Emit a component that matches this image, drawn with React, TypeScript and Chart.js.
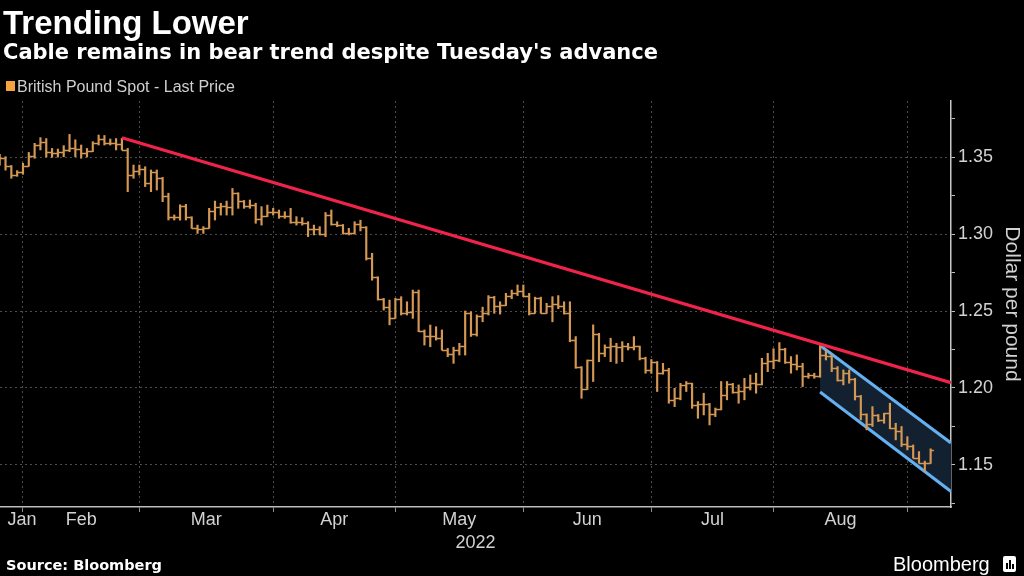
import React, { useEffect, useRef } from "react";
import { Chart, registerables } from "chart.js";

Chart.register(...registerables);

// ---------- data (GBP/USD daily bars, one per weekday) ----------
const opens = [
  1.3470, 1.3495, 1.3440, 1.3385, 1.3405, 1.3445, 1.3510, 1.3580, 1.3598, 1.3530,
  1.3528, 1.3532, 1.3548, 1.3560, 1.3555, 1.3528, 1.3540, 1.3590, 1.3615, 1.3592,
  1.3590, 1.3585, 1.3548, 1.3385, 1.3410, 1.3420, 1.3330, 1.3400, 1.3365, 1.3245,
  1.3110, 1.3112, 1.3180, 1.3110, 1.3040, 1.3035, 1.3040, 1.3150, 1.3175, 1.3185,
  1.3175, 1.3265, 1.3215, 1.3185, 1.3190, 1.3095, 1.3115, 1.3145, 1.3142, 1.3115,
  1.3118, 1.3075, 1.3078, 1.3070, 1.3035, 1.3035, 1.3002, 1.3125, 1.3065, 1.3060,
  1.3005, 1.3005, 1.3065, 1.3045, 1.2845, 1.2720, 1.2580, 1.2525, 1.2455, 1.2575,
  1.2485, 1.2495, 1.2625, 1.2370, 1.2335, 1.2335, 1.2325, 1.2248, 1.2220, 1.2245,
  1.2275, 1.2490, 1.2350, 1.2465, 1.2485, 1.2590, 1.2530, 1.2540, 1.2600, 1.2620,
  1.2630, 1.2600, 1.2490, 1.2585, 1.2490, 1.2530, 1.2545, 1.2535, 1.2490, 1.2310,
  1.2135, 1.1995, 1.2180, 1.2350, 1.2225, 1.2265, 1.2275, 1.2265, 1.2270, 1.2265,
  1.2270, 1.2195, 1.2120, 1.2170, 1.2095, 1.2115, 1.1925, 1.1935, 1.2020, 1.2030,
  1.1890, 1.1895, 1.1895, 1.1830, 1.1865, 1.1955, 1.2025, 1.1975, 1.1980, 1.2005,
  1.2035, 1.2025, 1.2165, 1.2175, 1.2180, 1.2250, 1.2170, 1.2155, 1.2145, 1.2075,
  1.2085, 1.2075, 1.2215, 1.2210, 1.2130, 1.2055, 1.2100, 1.2060, 1.1950, 1.1830,
  1.1765, 1.1825, 1.1795, 1.1835, 1.1740, 1.1720, 1.1635, 1.1620, 1.1545, 1.1515,
  1.1515,
];
const highs = [
  1.3518, 1.3502, 1.3445, 1.3412, 1.3460, 1.3530, 1.3589, 1.3626, 1.3620, 1.3556,
  1.3552, 1.3574, 1.3647, 1.3612, 1.3578, 1.3556, 1.3600, 1.3643, 1.3640, 1.3617,
  1.3620, 1.3622, 1.3556, 1.3448, 1.3448, 1.3437, 1.3416, 1.3416, 1.3368, 1.3265,
  1.3124, 1.3190, 1.3193, 1.3112, 1.3058, 1.3048, 1.3167, 1.3214, 1.3200, 1.3214,
  1.3296, 1.3268, 1.3218, 1.3221, 1.3200, 1.3178, 1.3188, 1.3167, 1.3156, 1.3145,
  1.3167, 1.3113, 1.3106, 1.3080, 1.3058, 1.3048, 1.3140, 1.3156, 1.3080, 1.3062,
  1.3037, 1.3080, 1.3090, 1.3048, 1.2875, 1.2722, 1.2582, 1.2571, 1.2582, 1.2593,
  1.2560, 1.2636, 1.2636, 1.2377, 1.2409, 1.2398, 1.2377, 1.2257, 1.2265, 1.2290,
  1.2500, 1.2495, 1.2475, 1.2525, 1.2600, 1.2595, 1.2560, 1.2615, 1.2636, 1.2669,
  1.2669, 1.2615, 1.2590, 1.2590, 1.2550, 1.2593, 1.2600, 1.2560, 1.2560, 1.2334,
  1.2139, 1.2182, 1.2410, 1.2355, 1.2280, 1.2323, 1.2290, 1.2301, 1.2290, 1.2334,
  1.2272, 1.2200, 1.2185, 1.2172, 1.2160, 1.2128, 1.1998, 1.2030, 1.2042, 1.2031,
  1.1912, 1.1966, 1.1900, 1.1870, 1.2042, 1.2042, 1.2030, 1.2020, 1.2063, 1.2085,
  1.2096, 1.2193, 1.2225, 1.2255, 1.2295, 1.2258, 1.2204, 1.2215, 1.2160, 1.2096,
  1.2096, 1.2276, 1.2247, 1.2215, 1.2139, 1.2117, 1.2117, 1.2063, 1.1952, 1.1832,
  1.1879, 1.1828, 1.1836, 1.1901, 1.1771, 1.1750, 1.1684, 1.1630, 1.1587, 1.1525,
  1.1605,
];
const lows = [
  1.3448, 1.3415, 1.3362, 1.3375, 1.3388, 1.3440, 1.3492, 1.3546, 1.3500, 1.3498,
  1.3500, 1.3502, 1.3535, 1.3502, 1.3492, 1.3500, 1.3535, 1.3578, 1.3578, 1.3578,
  1.3546, 1.3546, 1.3275, 1.3362, 1.3383, 1.3308, 1.3275, 1.3286, 1.3210, 1.3091,
  1.3091, 1.3090, 1.3091, 1.3037, 1.3004, 1.3004, 1.3037, 1.3091, 1.3123, 1.3123,
  1.3123, 1.3167, 1.3167, 1.3167, 1.3070, 1.3058, 1.3113, 1.3123, 1.3102, 1.3102,
  1.3070, 1.3058, 1.3058, 1.2983, 1.2994, 1.2994, 1.2983, 1.3058, 1.3048, 1.3000,
  1.2994, 1.3000, 1.3020, 1.2831, 1.2700, 1.2571, 1.2506, 1.2410, 1.2452, 1.2474,
  1.2474, 1.2452, 1.2366, 1.2279, 1.2268, 1.2311, 1.2246, 1.2203, 1.2160, 1.2214,
  1.2214, 1.2335, 1.2337, 1.2430, 1.2474, 1.2485, 1.2480, 1.2535, 1.2580, 1.2600,
  1.2593, 1.2474, 1.2485, 1.2485, 1.2485, 1.2430, 1.2515, 1.2480, 1.2300, 1.2128,
  1.1933, 1.1990, 1.2042, 1.2171, 1.2204, 1.2171, 1.2160, 1.2171, 1.2247, 1.2247,
  1.2182, 1.2096, 1.2095, 1.1977, 1.2090, 1.1901, 1.1879, 1.1923, 1.1977, 1.1868,
  1.1803, 1.1825, 1.1760, 1.1814, 1.1858, 1.1923, 1.1966, 1.1901, 1.1923, 1.1987,
  1.1966, 1.2020, 1.2106, 1.2125, 1.2170, 1.2160, 1.2096, 1.2117, 1.2009, 1.2063,
  1.2063, 1.2070, 1.2182, 1.2106, 1.2045, 1.2020, 1.2031, 1.1922, 1.1793, 1.1728,
  1.1750, 1.1782, 1.1771, 1.1735, 1.1663, 1.1620, 1.1598, 1.1544, 1.1511, 1.1455,
  1.1510,
];
const closes = [
  1.3495, 1.3440, 1.3385, 1.3405, 1.3445, 1.3510, 1.3580, 1.3598, 1.3530, 1.3528,
  1.3532, 1.3548, 1.3560, 1.3555, 1.3528, 1.3540, 1.3590, 1.3615, 1.3592, 1.3590,
  1.3585, 1.3548, 1.3385, 1.3410, 1.3420, 1.3330, 1.3400, 1.3365, 1.3245, 1.3110,
  1.3112, 1.3180, 1.3110, 1.3040, 1.3035, 1.3040, 1.3150, 1.3175, 1.3185, 1.3175,
  1.3265, 1.3215, 1.3185, 1.3190, 1.3095, 1.3115, 1.3145, 1.3142, 1.3115, 1.3118,
  1.3075, 1.3078, 1.3070, 1.3035, 1.3035, 1.3002, 1.3125, 1.3065, 1.3060, 1.3005,
  1.3005, 1.3065, 1.3045, 1.2845, 1.2720, 1.2580, 1.2525, 1.2455, 1.2575, 1.2485,
  1.2495, 1.2625, 1.2370, 1.2335, 1.2335, 1.2325, 1.2248, 1.2220, 1.2245, 1.2275,
  1.2490, 1.2350, 1.2465, 1.2485, 1.2590, 1.2530, 1.2540, 1.2600, 1.2620, 1.2630,
  1.2600, 1.2490, 1.2585, 1.2490, 1.2530, 1.2545, 1.2535, 1.2490, 1.2310, 1.2135,
  1.1995, 1.2180, 1.2350, 1.2225, 1.2265, 1.2275, 1.2265, 1.2270, 1.2265, 1.2270,
  1.2195, 1.2120, 1.2170, 1.2095, 1.2115, 1.1925, 1.1935, 1.2020, 1.2030, 1.1890,
  1.1895, 1.1895, 1.1830, 1.1865, 1.1955, 1.2025, 1.1975, 1.1980, 1.2005, 1.2035,
  1.2025, 1.2165, 1.2175, 1.2180, 1.2250, 1.2170, 1.2155, 1.2145, 1.2075, 1.2085,
  1.2075, 1.2215, 1.2210, 1.2130, 1.2055, 1.2100, 1.2060, 1.1950, 1.1830, 1.1765,
  1.1825, 1.1795, 1.1835, 1.1740, 1.1720, 1.1635, 1.1620, 1.1545, 1.1515, 1.1515,
  1.1600,
];

// month boundaries (weekday index of first bar of each month) and labels
const monthStarts = [4, 24, 47, 68, 90, 112, 133, 156];
const monthLabels = ["Jan", "Feb", "Mar", "Apr", "May", "Jun", "Jul", "Aug"];
const yearLabel = "2022";

const yMajorTicks = [1.15, 1.2, 1.25, 1.3, 1.35];
const yMinorTicks = [1.125, 1.175, 1.225, 1.275, 1.325, 1.375];

// drawn trend line (red) and falling channel (blue)
const trendX = [21, 163.5];
const trendY = [1.3625, 1.2035];
const channelX = [141, 163.5];
const channelUpper = [1.2276, 1.1643];
const channelLower = [1.1974, 1.1328];

// ---------- layout / style ----------
const X_MIN = 0.05;
const X_MAX = 163.5;
const Y_MIN = 1.1227;
const Y_MAX = 1.3864;
const FIRST_LABEL_MIN = 3.8;

const AXIS_FONT = "'Liberation Sans', Arial, sans-serif";
const BAR_COLOR = "#d49754";
const GRID_COLOR = "#4d4d4d";
const LABEL_COLOR = "#d2d2d2";

const labelPositions = monthLabels.map((_, i) => {
  const start = i === 0 ? X_MIN : monthStarts[i - 1];
  const end = monthStarts[i];
  return Math.max((start + end) / 2, X_MIN + FIRST_LABEL_MIN);
});

const ohlcTicks = {
  id: "ohlcTicks",
  afterDatasetDraw(chart: any, args: any) {
    if (args.index !== 0) return;
    const { ctx, chartArea, scales } = chart;
    const y = scales.y;
    ctx.save();
    ctx.beginPath();
    ctx.rect(chartArea.left, chartArea.top, chartArea.right - chartArea.left, chartArea.bottom - chartArea.top);
    ctx.clip();
    ctx.beginPath();
    ctx.strokeStyle = BAR_COLOR;
    ctx.lineWidth = 1.4;
    args.meta.data.forEach((el: any, i: number) => {
      const yo = Math.round(y.getPixelForValue(opens[i])) + 0.5;
      const yc = Math.round(y.getPixelForValue(closes[i])) + 0.5;
      ctx.moveTo(el.x - 3.2, yo);
      ctx.lineTo(el.x, yo);
      ctx.moveTo(el.x, yc);
      ctx.lineTo(el.x + 3.2, yc);
    });
    ctx.stroke();
    ctx.restore();
  },
};

export default function App() {
  const ref = useRef<HTMLCanvasElement>(null);

  useEffect(() => {
    document.body.style.margin = "0";
    document.body.style.background = "#000";
    const chart = new Chart(ref.current as HTMLCanvasElement, {
      type: "bar",
      data: {
        datasets: [
          {
            type: "bar",
            data: highs.map((h, i) => ({ x: i, y: [lows[i], h] })) as any,
            backgroundColor: BAR_COLOR,
            borderWidth: 0,
            barThickness: 1.5,
            grouped: false,
            order: 1,
          } as any,
          {
            type: "line",
            data: trendX.map((x, i) => ({ x, y: trendY[i] })),
            borderColor: "#f0234b",
            borderWidth: 3.2,
            pointRadius: 0,
            fill: false,
            order: 0,
          } as any,
          {
            type: "line",
            data: channelX.map((x, i) => ({ x, y: channelUpper[i] })),
            borderColor: "#64b0f0",
            borderWidth: 3,
            pointRadius: 0,
            fill: false,
            order: 2,
          } as any,
          {
            type: "line",
            data: channelX.map((x, i) => ({ x, y: channelLower[i] })),
            borderColor: "#64b0f0",
            backgroundColor: "#132030",
            borderWidth: 3,
            pointRadius: 0,
            fill: "-1",
            order: 2,
          } as any,
        ],
      },
      options: {
        responsive: false,
        animation: false,
        layout: { padding: { top: 101, left: 0, right: 0, bottom: 22 } },
        plugins: {
          legend: { display: false },
          tooltip: { enabled: false },
        },
        scales: {
          x: {
            type: "linear",
            min: X_MIN,
            max: X_MAX,
            offset: false,
            afterBuildTicks: (scale: any) => {
              const t = [
                ...monthStarts.map((v) => ({ value: v, kind: "grid", text: "" })),
                ...labelPositions.map((v, i) => ({ value: v, kind: "label", text: monthLabels[i] })),
              ];
              t.sort((a, b) => a.value - b.value);
              scale.ticks = t;
            },
            afterFit: (scale: any) => {
              scale.height = 47;
            },
            ticks: {
              autoSkip: false,
              maxRotation: 0,
              minRotation: 0,
              padding: -3,
              color: LABEL_COLOR,
              font: { family: AXIS_FONT, size: 18 },
              callback: (_v: any, i: number, ticks: any[]) => (ticks[i] && ticks[i].kind === "label" ? ticks[i].text : ""),
            },
            grid: {
              offset: false,
              color: (c: any) => (c.tick && c.tick.kind === "grid" ? GRID_COLOR : "rgba(0,0,0,0)"),
              tickColor: (c: any) => (c.tick && c.tick.kind === "grid" ? "#8a8a8a" : "rgba(0,0,0,0)"),
              tickLength: 5,
              lineWidth: 1,
            },
            border: { display: true, color: "#bdbdbd", width: 1.5, dash: [2, 3] },
            title: {
              display: true,
              text: yearLabel,
              color: LABEL_COLOR,
              font: { family: AXIS_FONT, size: 18 },
              padding: { top: 0, bottom: 0 },
            },
          },
          y: {
            type: "linear",
            position: "right",
            min: Y_MIN,
            max: Y_MAX,
            afterBuildTicks: (scale: any) => {
              const t = [
                ...yMajorTicks.map((v) => ({ value: v, kind: "major" })),
                ...yMinorTicks.map((v) => ({ value: v, kind: "minor" })),
              ];
              t.sort((a, b) => a.value - b.value);
              scale.ticks = t;
            },
            afterFit: (scale: any) => {
              scale.width = 73;
            },
            ticks: {
              autoSkip: false,
              padding: 3,
              color: LABEL_COLOR,
              font: { family: AXIS_FONT, size: 18 },
              callback: (v: any, i: number, ticks: any[]) =>
                ticks[i] && ticks[i].kind === "major" ? Number(v).toFixed(2) : "",
            },
            grid: {
              color: (c: any) => (c.tick && c.tick.kind === "major" ? GRID_COLOR : "rgba(0,0,0,0)"),
              tickColor: "#bdbdbd",
              tickLength: 4,
              lineWidth: 1,
            },
            border: { display: true, color: "#c8c8c8", width: 1.5, dash: [2, 3] },
            title: {
              display: true,
              text: "Dollar per pound",
              color: LABEL_COLOR,
              font: { family: AXIS_FONT, size: 21 },
              padding: { top: 0, bottom: 0 },
            },
          },
        },
      },
      plugins: [ohlcTicks],
    } as any);
    return () => chart.destroy();
  }, []);

  return (
    <div style={{ position: "absolute", left: 0, top: 0, width: 1024, height: 576, background: "#000", overflow: "hidden" }}>
      <canvas ref={ref} width={1024} height={576} style={{ position: "absolute", left: 0, top: 0, width: 1024, height: 576 }} />
      <div style={{ position: "absolute", left: 3, top: 6, fontFamily: "'Liberation Sans', Arial, sans-serif", fontWeight: 700, fontSize: 33, lineHeight: "33px", color: "#fff", whiteSpace: "nowrap" }}>
        Trending Lower
      </div>
      <div style={{ position: "absolute", left: 3, top: 42, fontFamily: "'DejaVu Sans', sans-serif", fontWeight: 700, fontSize: 21, lineHeight: "21px", color: "#fff", whiteSpace: "nowrap" }}>
        Cable remains in bear trend despite Tuesday's advance
      </div>
      <div style={{ position: "absolute", left: 6, top: 81, width: 9, height: 10, background: "#f4a340" }} />
      <div style={{ position: "absolute", left: 17, top: 78.5, fontFamily: "'Liberation Sans', Arial, sans-serif", fontSize: 16, lineHeight: "16px", color: "#cfcfcf", whiteSpace: "nowrap" }}>
        British Pound Spot - Last Price
      </div>
      <div style={{ position: "absolute", left: 6, top: 558, fontFamily: "'DejaVu Sans', sans-serif", fontWeight: 700, fontSize: 14.5, lineHeight: "14.5px", color: "#fff", whiteSpace: "nowrap" }}>
        Source: Bloomberg
      </div>
      <div style={{ position: "absolute", left: 893, top: 554, fontFamily: "'Liberation Sans', Arial, sans-serif", fontSize: 20, lineHeight: "20px", color: "#fff", whiteSpace: "nowrap" }}>
        Bloomberg
      </div>
      <div style={{ position: "absolute", left: 1003, top: 556, width: 13, height: 16, background: "#fff", borderRadius: 2 }}>
        <div style={{ position: "absolute", left: 3, top: 7, width: 2, height: 6, background: "#000" }} />
        <div style={{ position: "absolute", left: 6, top: 4, width: 2, height: 9, background: "#000" }} />
        <div style={{ position: "absolute", left: 9, top: 8, width: 2, height: 5, background: "#000" }} />
      </div>
    </div>
  );
}
